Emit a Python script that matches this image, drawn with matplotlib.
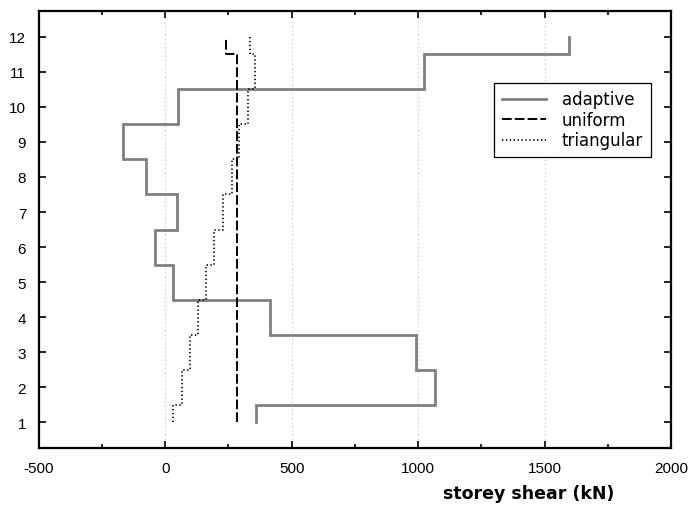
import numpy as np
import matplotlib
matplotlib.use("Agg")
import matplotlib.pyplot as plt

# storey shear per storey (kN), storeys 1..12
storeys = list(range(1, 13))
adaptive = [360, 1065, 990, 415, 30, -40, 45, -75, -165, 50, 1025, 1595]
uniform = [282, 282, 282, 282, 282, 282, 282, 282, 282, 282, 282, 240]
triangular = [32, 66, 98, 131, 162, 195, 227, 263, 293, 326, 357, 335]


def step_profile(values):
    # each storey value spans storey-0.5 .. storey+0.5, clipped to 1..12
    xs, ys = [], []
    for s, v in zip(storeys, values):
        lo = max(s - 0.5, storeys[0])
        hi = min(s + 0.5, storeys[-1])
        xs += [v, v]
        ys += [lo, hi]
    return xs, ys


plt.rcParams['lines.scale_dashes'] = False
plt.rcParams['axes.unicode_minus'] = False

fig = plt.figure(figsize=(6.89, 5.06), dpi=100)
ax = fig.add_axes([0.0562, 0.112, 0.9177, 0.8649])

x, y = step_profile(adaptive)
ax.plot(x, y, color='#808080', lw=2.0, label='adaptive', solid_joinstyle='miter')
x, y = step_profile(uniform)
ax.plot(x, y, color='black', lw=1.4, dashes=(7, 2.2), label='uniform')
x, y = step_profile(triangular)
ax.plot(x, y, color='black', lw=1.2, dashes=(1, 1.8), label='triangular')

ax.set_xlim(-500, 2000)
ax.set_ylim(0.25, 12.75)
ax.set_xticks([-500, 0, 500, 1000, 1500, 2000])
ax.set_xticks(np.arange(-250, 2000, 500), minor=True)
ax.set_yticks(storeys)

for gx in [0, 500, 1000, 1500]:
    ax.axvline(gx, color='#c8c8c8', lw=0.8, ls=(0, (1, 2)), zorder=0)

for lab in ax.get_xticklabels() + ax.get_yticklabels():
    lab.set_family('Liberation Sans')
    lab.set_fontsize(11)

ax.tick_params(which='both', direction='in', top=True, right=True, width=1.2)
ax.tick_params(which='major', length=5)
ax.tick_params(which='minor', length=3)
ax.tick_params(axis='x', pad=9)
ax.tick_params(axis='y', pad=9)
for sp in ax.spines.values():
    sp.set_linewidth(1.6)

leg = ax.legend(loc='upper left', bbox_to_anchor=(0.7205, 0.8348), borderaxespad=0,
                fontsize=12, handlelength=2.65, handletextpad=0.95, labelspacing=0.15,
                borderpad=0.45, fancybox=False, framealpha=1, edgecolor='black')
leg.get_frame().set_linewidth(0.9)

fig.text(529 / 689, 1 - 494 / 506, 'storey shear (kN)', ha='center', va='center',
         fontsize=12.5, fontweight='bold')

fig.savefig('out.png', dpi=100)
